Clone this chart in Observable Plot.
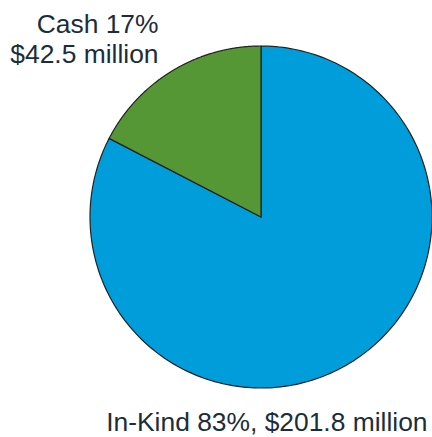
<!DOCTYPE html>
<html>
<head>
<meta charset="utf-8">
<script src="https://cdn.jsdelivr.net/npm/d3@7"></script>
<script src="https://cdn.jsdelivr.net/npm/@observablehq/plot@0.6"></script>
<style>
  html, body { margin: 0; padding: 0; background: #fff; }
  #chart svg { display: block; }
</style>
</head>
<body>
<div id="chart"></div>
<script>
// Data
const categories = ["In-Kind", "Cash"];
const amounts = [201.8, 42.5];          // $ million
const percents = [83, 17];
const colors = ["#009ddb", "#569735"];

// Build slice polygons with d3.pie (clockwise from 12 o'clock)
const arcs = d3.pie().sort(null)(amounts);
const pts = [];
arcs.forEach((a, i) => {
  const cat = categories[i];
  pts.push({cat, x: 0, y: 0});
  const n = 240;
  for (let k = 0; k <= n; k++) {
    const t = a.startAngle + (a.endAngle - a.startAngle) * k / n;
    pts.push({cat, x: Math.sin(t), y: Math.cos(t)});
  }
  pts.push({cat, x: 0, y: 0});
});

const font = "Liberation Sans, Arial, Helvetica, sans-serif";
const textColor = "#1c2d3a";

const chart = Plot.plot({
  width: 432,
  height: 437,
  margin: 0,
  style: {fontFamily: font, background: "#fff"},
  x: {domain: [-260.5 / 171, (432 - 260.5) / 171], axis: null},
  y: {domain: [-(437 - 216.5) / 171, 216.5 / 171], axis: null},
  color: {domain: categories, range: colors},
  marks: [
    Plot.line(pts, {
      x: "x", y: "y", z: "cat", fill: "cat",
      stroke: "#222", strokeWidth: 1.2, curve: "linear", strokeLinejoin: "round"
    }),
    Plot.text([`${categories[1]} ${percents[1]}%\n$${amounts[1]} million`], {
      frameAnchor: "top-left", textAnchor: "end", lineAnchor: "top",
      dx: 158, dy: 10, fontSize: 26.4, lineHeight: 1.174, fill: textColor
    }),
    Plot.text([`${categories[0]} ${percents[0]}%, $${amounts[0]} million`], {
      frameAnchor: "bottom-right", textAnchor: "end", lineAnchor: "bottom",
      dx: -5, dy: -7, fontSize: 26.4, fill: textColor
    })
  ]
});
document.getElementById("chart").appendChild(chart);
</script>
</body>
</html>
